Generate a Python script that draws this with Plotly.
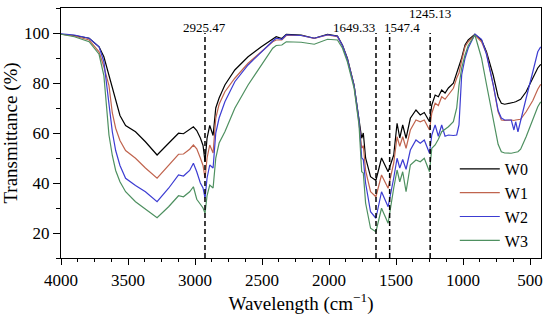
import plotly.graph_objects as go

# Wavenumber grid (cm^-1)
wavenumber = [4000, 3900, 3790, 3716, 3680, 3642, 3617, 3592, 3560, 3518, 3444, 3370, 3283, 3197,
              3123, 3086, 3040, 3012, 2987, 2960, 2940, 2925, 2910, 2890, 2865, 2845, 2820, 2777,
              2703, 2604, 2505, 2420, 2394, 2352, 2319, 2208, 2110, 2011, 1937, 1900, 1863, 1813,
              1776, 1756, 1744, 1727, 1690, 1650, 1608, 1559, 1517, 1492, 1472, 1450, 1425, 1393,
              1351, 1319, 1289, 1262, 1250, 1233, 1208, 1184, 1159, 1134, 1109, 1072, 1047, 1030,
              1010, 985, 961, 911, 862, 825, 775, 738, 714, 689, 640, 620, 607, 590, 570, 529,
              479, 442, 420]

W0 = [99.5, 99.0, 97.9, 94.5, 90.5, 83.2, 77.5, 72.5, 67, 63, 60.5, 56.5, 51.2, 55.9,
      59.9, 59.7, 61.5, 62.5, 61, 58, 55, 48.5, 58, 63, 59, 70, 74, 79.2,
      85.2, 90.5, 94.5, 97.5, 98.5, 97.8, 99.5, 99.2, 97.9, 99.5, 98.8, 95.2, 89.9, 79.2,
      65.9, 57.9, 60, 50, 42.5, 41, 50, 44.5, 51.2, 63.9, 58, 63.2, 57.9, 65.9,
      69.2, 67.2, 68.2, 66, 64.5, 71.2, 75.2, 74.5, 77.2, 76, 78, 79.9, 84, 86,
      90, 95.2, 97.2, 99.5, 97.2, 92.5, 83.2, 74.5, 71.9, 71.5, 71.9, 72.3, 72.5, 73, 73.5, 76.5,
      82, 86, 87.5]

W1 = [99.5, 98.8, 97.2, 92.5, 86.5, 79, 68, 61.9, 57, 53, 49.9, 46, 41.9, 47.2,
      51.5, 51.6, 53.5, 55.2, 53.7, 50, 47, 41.9, 50, 55.2, 52, 66, 71.5, 76.5,
      81.9, 87.9, 92.5, 96.5, 97.2, 97.2, 99, 99, 97.8, 99.2, 98.5, 95, 89.5, 79,
      64, 53.9, 55, 45, 36.5, 34.5, 43.2, 37.9, 48, 58.5, 54.7, 58.5, 53.9, 61.2,
      65.2, 64.5, 65.2, 62.5, 61.2, 67.9, 71.9, 71, 74.5, 73.5, 75.2, 77.9, 82, 84,
      89, 94.5, 96.5, 99.2, 96.5, 91.9, 79.2, 68.5, 65.2, 65, 65.2, 65, 65.2, 65.2, 65.5, 68.5,
      73, 77.5, 79.5]

W2 = [99.7, 99.2, 97.9, 94.5, 88.5, 71.2, 60.5, 53, 47, 41.9, 39, 36.5, 32.5, 37.9,
      43.2, 42.8, 45, 47.9, 44.5, 40, 38, 33.9, 42, 47.2, 46, 60, 66, 72.5,
      80.5, 87.2, 92.5, 96.8, 97.9, 97.5, 99.3, 99, 97.9, 99.3, 98.7, 95, 89.5, 79,
      65, 50, 49.4, 40, 28.5, 25.9, 36.5, 30.5, 42, 49.9, 46, 49.4, 45.5, 53.2,
      57.2, 55.9, 57.2, 53.5, 51.9, 59.2, 63.2, 58.7, 63.2, 58.7, 59.2, 59, 59.2, 63.2,
      83.2, 89.9, 94, 99.5, 97.5, 91.5, 79.5, 69, 66, 65.2, 65.2, 61.2, 64.5, 60.5, 65.2, 73.9,
      84.5, 92.5, 94.5]

W3 = [99.5, 98.5, 96.5, 91.5, 83, 59.2, 51, 45, 40.5, 36.5, 32.5, 29.5, 26.1, 30.5,
      34.9, 34.5, 36.5, 38.5, 33.5, 31.5, 30, 27.9, 35, 39.2, 38, 50, 56, 60.5,
      69.9, 79.2, 87.2, 93.9, 95, 95.2, 96.5, 96.3, 95.5, 97.5, 97.2, 94, 88.5, 78,
      63.2, 44.5, 44, 32, 21.9, 20.5, 29.9, 23.9, 38, 45.2, 40.5, 44.5, 36.5, 47.2,
      49.2, 48.5, 49.9, 46, 44.5, 53.9, 55.2, 57.5, 60.5, 61.5, 62.5, 64.5, 70, 79,
      86, 91.2, 95, 99.2, 90, 79.5, 64.8, 55.5, 52.5, 52, 51.9, 52, 52.3, 52.5, 53.5, 58.5,
      65.9, 70.5, 72.5]

series_names = ["W0", "W1", "W2", "W3"]
series_values = [W0, W1, W2, W3]
series_colors = ["#000000", "#c0644e", "#3c3cd2", "#4e9060"]

peak_positions = [2925.47, 1649.33, 1547.4, 1245.13]
peak_labels = ["2925.47", "1649.33", "1547.4", "1245.13"]

x_tick_vals = [4000, 3500, 3000, 2500, 2000, 1500, 1000, 500]
y_tick_vals = [20, 40, 60, 80, 100]

FONT = "Liberation Serif, Times New Roman, serif"

fig = go.Figure()

for name, vals, col in zip(series_names, series_values, series_colors):
    fig.add_trace(go.Scatter(
        x=wavenumber, y=vals, mode="lines", name=name,
        line=dict(color=col, width=1.2),
    ))

for pos in peak_positions:
    fig.add_shape(type="line", xref="x", yref="y", x0=pos, x1=pos, y0=10, y1=100,
                  line=dict(color="black", width=1.5, dash="5px,3px"))

ann_cfg = [
    dict(xanchor="center", y=102.2, xshift=0),
    dict(xanchor="right", y=102.2, xshift=1),
    dict(xanchor="left", y=102.2, xshift=-8),
    dict(xanchor="center", y=107.8, xshift=0),
]
for pos, lab, cfg in zip(peak_positions, peak_labels, ann_cfg):
    fig.add_annotation(x=pos, y=cfg["y"], text=lab, showarrow=False,
                       xanchor=cfg["xanchor"], yanchor="middle", xshift=cfg["xshift"],
                       font=dict(family=FONT, size=13, color="black"))

fig.update_layout(
    width=550, height=320,
    margin=dict(l=60, r=7, t=8, b=62),
    paper_bgcolor="white", plot_bgcolor="white",
    font=dict(family=FONT, color="black"),
    showlegend=True,
    legend=dict(x=0.985, y=0.0, xanchor="right", yanchor="bottom",
                bgcolor="rgba(0,0,0,0)", font=dict(family=FONT, size=16),
                itemwidth=40),
)

fig.update_xaxes(
    range=[4000, 418], autorange=False,
    tickvals=x_tick_vals, ticks="outside", ticklen=6, tickwidth=1.2, tickcolor="black",
    minor=dict(dtick=125, tick0=0, ticks="outside", ticklen=3, tickcolor="black", tickwidth=1),
    showline=True, linecolor="black", linewidth=1.3, mirror=True,
    showgrid=False, zeroline=False,
    tickfont=dict(family=FONT, size=17),
    title=dict(text="Wavelength (cm<sup>−1</sup>)", font=dict(family=FONT, size=19), standoff=2),
)
fig.update_yaxes(
    range=[10, 110], autorange=False,
    tickvals=y_tick_vals, ticks="outside", ticklen=7, tickwidth=1.2, tickcolor="black",
    minor=dict(dtick=10, tick0=0, ticks="outside", ticklen=4, tickcolor="black", tickwidth=1),
    showline=True, linecolor="black", linewidth=1.3, mirror=True,
    showgrid=False, zeroline=False,
    tickfont=dict(family=FONT, size=17),
    title=dict(text="Transmittance (%)", font=dict(family=FONT, size=19), standoff=4),
)

fig.write_html("out.html",
               config={"displayModeBar": False},
               post_script="document.body.style.margin='0';document.body.style.padding='0';")
